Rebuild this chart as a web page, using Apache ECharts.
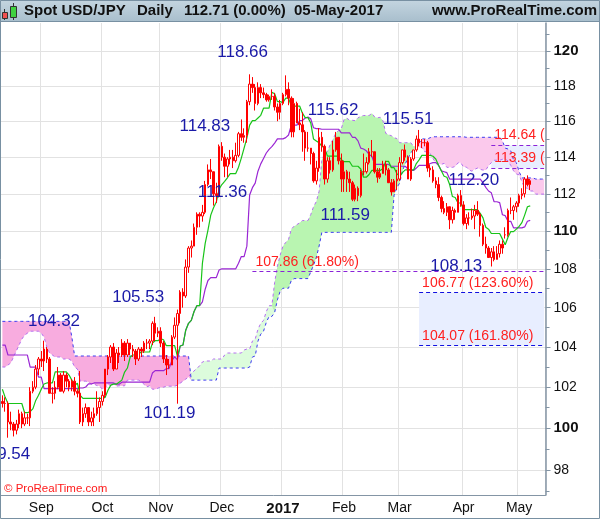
<!DOCTYPE html>
<html><head><meta charset="utf-8">
<script src="https://cdn.jsdelivr.net/npm/echarts@6/dist/echarts.min.js"></script>
<style>html,body{margin:0;padding:0;background:#fff}#c{width:600px;height:519px}</style>
</head><body><div id="c"></div>
<script>
// ---------- categories (weekdays 2016-08-12 .. 2017-05-12) ----------
const categories = [];
for (let d = new Date(Date.UTC(2016,7,12)); d <= new Date(Date.UTC(2017,4,12)); d.setUTCDate(d.getUTCDate()+1)) {
  const w = d.getUTCDay(); if (w !== 0 && w !== 6) categories.push(d.toISOString().slice(0,10));
}
const monthStarts = ['2016-09-01','2016-10-03','2016-11-01','2016-12-01','2017-01-02','2017-02-01','2017-03-01','2017-04-03','2017-05-01'];
const monthLabels = ['Sep','Oct','Nov','Dec','2017','Feb','Mar','Apr','May'];
const yMajorTicks = [98,100,102,104,106,108,110,112,114,116,118,120];
const yMinorTicks = [97,99,101,103,105,107,109,111,113,115,117,119,121];

// ---------- OHLC (Aug 12 2016 .. May 5 2017) ----------
const open = [
101.3,101.2,101.2,100.3,100.2,99.9,100.2,100.7,100.2,100.5,100.5,101.8,102.0,102.9,
103.4,103.3,103.9,103.4,101.7,101.7,102.0,102.6,101.8,102.6,102.3,102.0,102.3,101.8,101.7,100.3,100.7,101.0,100.3,100.5,100.7,101.0,
101.3,101.6,102.9,103.5,104.0,102.9,103.7,103.6,104.2,103.6,104.2,103.9,103.8,103.4,103.9,103.8,104.2,104.2,104.3,105.2,104.7,
104.8,104.2,103.4,103.1,103.1,104.5,105.1,105.7,106.8,106.6,108.1,109.1,109.2,110.2,110.9,110.8,111.0,112.5,113.3,113.2,112.0,111.9,
114.6,114.0,113.5,113.9,114.0,113.8,114.1,115.3,115.1,115.2,117.1,118.1,117.9,117.0,117.9,117.6,117.5,117.2,117.4,117.4,116.8,116.5,
117.0,117.5,117.8,117.3,115.4,117.0,115.9,115.8,115.4,114.5,114.5,114.2,112.7,113.4,115.1,114.6,112.8,113.8,113.3,114.4,115.1,113.8,
112.8,113.2,112.8,112.6,111.7,112.3,111.9,113.2,113.2,113.7,114.3,114.3,113.2,112.9,113.1,113.6,113.3,112.6,112.1,112.7,
112.8,113.7,114.4,114.0,112.8,113.9,114.4,115.0,114.8,114.8,114.8,113.4,113.3,112.7,112.5,111.8,111.2,111.0,111.3,110.6,111.1,111.0,111.9,
111.4,110.4,110.7,110.7,110.8,111.1,110.9,110.3,109.3,109.1,108.6,108.9,108.5,108.8,109.3,109.8,109.8,111.1,111.1,111.3,
111.5,111.9,112.0,112.8,112.5];
const close = [
101.2,101.2,100.3,100.2,99.9,100.2,100.7,100.2,100.5,100.5,101.8,102.0,102.9,103.4,
103.3,103.9,103.4,101.7,101.7,102.0,102.6,101.8,102.6,102.3,102.0,102.3,101.8,101.7,100.3,100.7,101.0,100.3,100.5,100.7,101.0,101.3,
101.6,102.9,103.5,104.0,102.9,103.7,103.6,104.2,103.6,104.2,103.9,103.8,103.4,103.9,103.8,104.2,104.2,104.3,105.2,104.7,104.8,
104.2,103.4,103.1,103.1,104.5,105.1,105.7,106.8,106.6,108.1,109.1,109.2,110.2,110.9,110.8,111.0,112.5,113.3,113.2,112.0,111.9,114.6,
114.0,113.5,113.9,114.0,113.8,114.1,115.3,115.1,115.2,117.1,118.1,117.9,117.0,117.9,117.6,117.5,117.2,117.4,117.4,116.8,116.5,117.0,
117.5,117.8,117.3,115.4,117.0,115.9,115.8,115.4,114.5,114.5,114.2,112.7,113.4,115.1,114.6,112.8,113.8,113.3,114.4,115.1,113.8,112.8,
113.2,112.8,112.6,111.7,112.3,111.9,113.2,113.2,113.7,114.3,114.3,113.2,112.9,113.1,113.6,113.3,112.6,112.1,112.7,112.8,
113.7,114.4,114.0,112.8,113.9,114.4,115.0,114.8,114.8,114.8,113.4,113.3,112.7,112.5,111.8,111.2,111.0,111.3,110.6,111.1,111.0,111.9,111.4,
110.4,110.7,110.7,110.8,111.1,110.9,110.3,109.3,109.1,108.6,108.9,108.5,108.8,109.3,109.1,109.8,111.1,111.1,111.3,111.5,
111.9,112.0,112.8,112.5,112.71];
const high = [
101.6,101.5,101.3,100.8,100.3,100.4,100.9,100.8,100.8,100.7,102.0,102.3,103.1,103.5,
103.8,104.32,104.0,103.5,102.0,102.3,103.0,102.7,102.8,102.7,102.4,102.4,102.5,101.9,102.8,101.0,101.2,101.0,100.8,101.0,101.8,101.5,
101.8,102.9,103.6,104.1,104.2,103.9,104.0,104.4,104.3,104.4,104.2,104.1,103.9,104.0,104.0,104.3,104.4,104.4,105.3,105.53,105.0,
105.0,104.3,103.6,103.4,104.6,105.5,105.9,106.9,107.0,108.5,109.2,109.5,110.4,111.0,111.0,111.4,112.7,113.6,113.9,113.2,112.6,114.7,
114.83,114.2,114.0,114.4,114.4,114.8,115.4,116.1,115.6,117.2,118.66,118.5,118.1,118.2,118.1,117.9,117.6,117.5,117.8,117.6,117.0,117.2,
117.6,118.6,118.2,117.4,117.3,117.1,116.7,116.5,115.5,115.4,114.5,114.3,113.8,115.62,115.4,114.7,114.0,114.0,114.9,115.4,115.1,114.2,
113.8,113.3,113.2,112.7,112.5,112.4,113.3,114.2,114.0,114.5,114.95,114.3,113.4,113.4,113.8,113.8,113.4,112.8,112.8,113.3,
114.0,114.4,114.7,114.1,114.0,114.4,115.2,115.51,115.0,115.0,114.9,113.6,113.5,112.9,112.9,111.9,111.6,111.5,111.3,111.3,111.2,112.0,112.2,
111.6,110.9,111.0,111.2,111.4,111.6,111.0,110.4,109.7,109.2,109.1,109.2,109.2,109.5,109.5,110.2,111.2,111.8,111.4,111.6,
112.0,112.3,112.9,113.0,112.8];
const low = [
101.0,100.8,99.54,99.9,99.6,99.7,100.0,100.0,100.1,100.2,100.1,101.7,101.9,102.6,
103.0,102.8,103.2,101.7,101.2,101.4,101.9,101.8,101.7,102.0,101.8,101.8,101.6,101.5,100.2,100.1,100.5,100.1,100.1,100.1,100.6,100.3,
101.1,101.5,102.6,103.2,102.8,102.9,103.2,103.5,103.3,103.5,103.6,103.5,103.1,103.3,103.5,103.7,103.9,103.9,104.1,104.3,104.5,
104.0,103.2,102.6,102.9,103.1,104.4,101.19,105.2,106.0,106.5,107.8,108.6,109.2,109.8,110.2,110.5,110.9,112.4,112.8,111.36,111.5,111.8,
113.8,112.9,112.9,113.6,113.4,113.7,114.0,114.9,114.8,114.8,116.9,117.6,116.6,116.9,117.3,117.3,117.1,117.1,117.2,116.6,116.0,116.1,
116.9,117.4,116.9,115.1,115.1,115.9,115.5,114.3,113.8,114.3,113.6,112.6,112.5,113.2,114.3,112.5,112.6,113.1,113.2,114.3,113.6,112.1,
112.1,112.1,112.1,111.6,111.59,111.6,111.8,113.0,113.1,113.6,114.0,113.1,112.6,112.8,113.1,113.0,112.6,111.9,112.1,112.2,
112.7,113.6,113.8,112.8,112.7,113.8,114.3,114.6,114.5,114.6,113.2,112.9,112.6,112.3,111.6,111.0,110.9,110.8,110.1,110.4,110.6,111.0,111.3,
110.3,110.1,110.3,110.6,110.1,110.8,109.7,109.2,108.8,108.6,108.13,108.4,108.5,108.6,108.8,109.6,109.7,110.9,110.6,111.0,
111.3,111.7,111.8,112.4,112.2];

// ---------- Ichimoku lines ----------
const tenkan = [
101.9,101.5,101.2,101.2,101.2,101.2,101.2,101.2,100.75,100.75,100.8,100.95,101.35,101.6,
101.9,102.16,102.21,102.21,102.21,102.76,102.76,102.76,102.76,102.76,102.6,102.35,102.1,102.2,101.6,101.45,101.45,101.45,101.45,101.45,101.45,101.45,
101.45,101.5,101.85,102.1,102.15,102.15,102.25,102.35,102.75,102.95,103.5,103.6,103.6,103.65,103.75,103.75,103.75,103.75,104.2,104.32,104.32,
104.42,104.37,104.07,104.07,104.07,104.07,103.55,104.05,104.1,104.85,105.2,105.35,105.8,106.1,106.1,108.3,109.35,110.05,110.85,111.25,111.55,112.25,
112.5,112.67,112.87,113.1,113.1,113.1,113.45,113.95,114.5,115.05,115.78,116.03,116.03,116.18,116.33,116.73,116.73,116.73,117.63,117.55,117.1,117.1,
117.05,117.3,117.3,116.85,116.85,116.85,116.85,116.45,116.2,116.2,115.9,115.0,114.9,114.8,114.6,114.5,114.06,114.06,114.06,114.06,114.06,113.86,
113.75,113.75,113.75,113.5,113.5,113.5,113.35,112.9,112.9,113.05,113.27,113.27,113.27,113.27,113.37,113.77,113.77,113.42,113.42,113.1,
112.95,113.15,113.3,113.3,113.3,113.3,113.65,113.85,114.1,114.1,114.1,114.1,114.05,113.9,113.55,113.25,112.95,112.9,112.5,111.85,111.8,111.5,111.5,
111.15,111.15,111.15,111.15,111.15,111.15,110.95,110.7,110.2,110.1,109.87,109.87,109.87,109.87,109.57,109.27,109.67,109.97,109.97,110.1,
110.25,110.45,110.85,111.3,111.35];
const kijun = [
104.1,104.1,103.6,103.6,103.6,103.6,103.6,103.6,103.6,103.6,103.0,103.0,103.0,102.5,
102.5,101.93,101.93,101.93,101.93,101.93,101.93,101.93,101.93,101.93,101.93,101.93,101.93,101.93,101.96,101.96,102.01,102.16,102.16,102.21,102.21,102.21,
102.21,102.21,102.21,102.21,102.21,102.15,102.15,102.25,102.25,102.25,102.25,102.25,102.25,102.25,102.25,102.25,102.25,102.25,102.7,102.82,102.82,
102.82,102.82,102.92,102.92,103.32,103.52,103.36,104.05,104.1,104.85,105.2,105.35,105.8,106.1,106.1,106.3,106.95,107.4,107.55,107.55,107.55,107.95,
108.01,108.01,108.01,108.01,108.01,108.01,108.3,108.65,108.65,109.2,111.93,112.33,112.58,113.23,113.63,113.93,114.23,114.43,114.58,114.78,115.01,115.01,
115.01,115.08,115.23,115.78,115.78,115.78,116.03,116.03,116.18,116.23,116.13,115.63,115.58,115.58,115.55,115.55,115.55,115.55,115.55,115.55,115.55,115.35,
115.35,115.35,115.35,115.1,115.1,114.9,114.5,114.45,114.35,114.15,114.05,113.6,113.6,113.6,113.6,113.6,113.6,113.5,113.5,113.5,
113.5,113.5,113.5,113.35,113.27,113.27,113.4,113.55,113.55,113.55,113.55,113.65,113.7,113.7,113.55,113.25,113.2,113.15,112.8,112.8,112.8,112.8,112.8,
112.8,112.8,112.8,112.8,112.8,112.8,112.8,112.6,112.35,112.15,112.05,111.57,111.57,111.52,110.87,110.82,110.52,110.52,110.17,110.17,
110.17,110.17,110.22,110.52,110.57];
// cloud edges (plotted 26 days ahead, so they reach past the last candle)
const spanA = [
103.0,103.0,103.1,103.2,103.5,103.8,104.1,104.4,104.6,104.7,104.8,104.8,104.8,104.8,104.7,104.5,
104.0,103.7,103.6,103.5,103.5,103.5,103.4,103.4,103.4,103.3,
103.0,102.9,102.3,102.3,102.3,102.26,102.16,102.16,102.08,102.06,101.9,101.97,102.17,102.05,102.2,102.05,
102.07,102.07,102.07,102.35,102.35,102.35,102.35,102.35,102.27,102.14,102.02,102.07,101.9,101.9,101.95,
102.0,102.0,102.05,102.05,102.05,102.05,102.1,102.2,102.3,102.4,102.5,102.7,102.8,102.95,103.05,103.25,
103.3,103.3,103.3,103.4,103.4,103.4,103.4,103.6,103.7,103.7,103.7,103.7,103.7,103.7,103.85,103.9,103.9,
104.3,104.4,104.9,105.2,105.35,105.8,106.1,106.1,107.3,108.15,108.73,109.2,109.4,109.55,110.1,110.26,110.34,110.44,
110.56,110.56,110.56,110.88,111.3,111.58,112.13,113.86,114.18,114.3,114.7,114.98,115.33,115.48,115.58,116.1,116.17,
116.05,116.05,116.03,116.19,116.27,116.32,116.32,116.32,116.44,116.24,116.19,116.22,116.02,115.32,115.24,115.19,115.08,115.03,
114.8,114.8,114.8,114.8,114.8,114.6,114.55,114.55,114.55,114.3,114.3,114.2,113.93,113.68,113.63,113.6,113.66,
113.44,113.44,113.44,113.49,113.69,113.69,113.46,113.46,113.3,113.23,113.33,113.4,113.33,113.29,113.29,113.53,113.7,
113.83,113.83,113.83,113.88,113.88,113.8,113.55,113.25,113.08,113.03,112.65,112.33,112.3,112.15,112.15,111.98,111.98,111.98,111.98];
const spanB = [
105.3,105.3,105.3,105.3,105.3,105.3,105.3,105.3,105.3,105.3,105.3,105.3,105.3,105.3,105.3,105.3,105.3,105.3,105.3,105.3,105.3,105.3,105.3,105.3,105.3,
104.5,
103.55,103.55,103.55,103.55,103.55,103.55,103.55,103.55,103.55,103.55,103.55,103.55,103.55,103.55,103.55,103.55,103.55,103.55,103.55,103.55,103.55,
103.55,103.55,103.55,103.55,103.55,103.55,103.55,103.55,103.55,103.55,103.55,103.55,103.55,103.55,103.55,103.55,103.55,103.55,103.55,103.55,103.55,
102.35,102.35,102.35,102.35,102.35,102.35,102.35,102.35,102.35,102.35,
102.95,102.95,102.95,102.95,102.95,102.95,102.95,102.95,102.95,102.95,102.95,
103.0,103.5,103.55,104.3,104.65,104.8,105.25,105.55,105.55,105.75,106.4,106.85,107.0,107.0,107.0,107.4,
107.5,107.5,107.5,107.5,107.5,107.5,107.85,108.2,108.6,109.2,
109.93,109.93,109.93,109.93,109.93,109.93,109.93,109.93,109.93,109.93,109.93,109.93,109.93,
109.93,109.93,109.93,109.93,109.93,109.93,109.93,109.93,109.93,109.93,109.93,109.93,109.93,
111.93,112.33,112.58,113.23,113.63,113.93,114.23,114.43,114.58,114.78,115.01,115.01,115.01,115.08,
115.13,115.13,115.13,115.13,115.13,115.13,115.13,115.13,115.13,115.13,115.13,115.13,
115.1,115.1,115.1,115.1,115.1,115.1,115.1,115.1,115.1,115.1,115.1,115.1,115.1,
114.9,114.5,114.45,114.35,113.85,113.7,113.21,112.86,112.86,112.86,112.86,112.86,112.8,112.8,112.8,112.8];

// ---------- annotations ----------
const swingDates = ['2016-08-16','2016-09-02','2016-10-28','2016-11-09','2016-11-28','2016-12-01','2016-12-15','2017-01-19','2017-02-07','2017-03-10','2017-03-31','2017-04-17'];
const swingValues = [99.54,104.32,105.53,101.19,111.36,114.83,118.66,115.62,111.59,115.51,112.20,108.13];
const swingOffsets = [[1,17],[10,-19],[-17,-20],[-8,10],[9,-13],[-17,-16],[-7,-22],[14,-18],[-10,14],[-11,-11],[13,-10],[-35,0]];
const fibValues = [107.86,106.77,104.07,114.64,113.39];
const fibTexts = ['107.86 (61.80%)','106.77 (123.60%)','104.07 (161.80%)','114.64 (61.80%)','113.39 (50.00%)'];
const fibStartDates = ['2016-12-16','2017-03-10','2017-03-10','2017-04-17','2017-04-17'];
const fibColors = ['#8a22d8','#1010e0','#1010e0','#8a22d8','#8a22d8'];
const fibBoxes = [['2017-03-10',106.77,104.07],['2017-04-17',114.64,113.39]];

// ---------- build ----------
const FONT = '"Liberation Sans", Arial, sans-serif';
const N = categories.length, lastCat = categories[N-1];
const monthIdx = new Set(monthStarts.map(d => categories.indexOf(d)));
const ohlc = close.map((c,i) => [open[i], c, low[i], high[i]]);
const lo = [], pinkL = [], greenL = [], greenR = [], pinkR = [];
for (let j = 0; j < spanA.length; j++) {
  const a = spanA[j], b = spanB[j], d = Math.abs(a-b);
  lo.push(Math.min(a,b));
  const bull = a > b;
  pinkL.push(!bull && j < 100 ? d : 0);
  pinkR.push(!bull && j >= 100 ? d : 0);
  greenL.push(bull && j < 98 ? d : 0);
  greenR.push(bull && j >= 98 ? d : 0);
}
function band(name, data, color) {
  return {name, type:'line', stack:'cloud', data, symbol:'none', silent:true, z:1,
    lineStyle:{width:0, opacity:0}, areaStyle: color ? {color, opacity:1} : undefined};
}
const fibLines = fibValues.map((v,k) => [
  {coord:[fibStartDates[k], v], lineStyle:{color:fibColors[k]},
   label:{formatter: fibTexts[k], width: k>=3 ? 52 : null, overflow: k>=3 ? 'truncate' : 'none', ellipsis:''}},
  {coord:[lastCat, v]}
]);
const chart = echarts.init(document.getElementById('c'), null, {renderer:'canvas'});
chart.setOption({
  animation:false,
  backgroundColor:'#ffffff',
  textStyle:{fontFamily:FONT},
  grid:{left:1, right:54.5, top:23, bottom:24, outerBoundsMode:'none', containLabel:false},
  xAxis:{type:'category', data:categories, boundaryGap:true,
    axisLine:{show:true, lineStyle:{color:'#8495a5', width:1}},
    axisTick:{show:false},
    axisLabel:{interval:(i)=>monthIdx.has(i), margin:6, color:'#111', fontSize:14, fontFamily:FONT,
      formatter:(v)=>{const k=monthStarts.indexOf(v); const t=monthLabels[k]; return k===4 ? '{b|'+t+'}' : t;},
      rich:{b:{fontWeight:'bold', fontSize:15, color:'#111', fontFamily:FONT}}},
    splitLine:{show:true, interval:(i)=>monthIdx.has(i), lineStyle:{color:'#e2e2e2', width:1}}},
  yAxis:[
    {type:'log', logBase:10, min:96.82, max:121.64, position:'right',
     axisLine:{show:true, lineStyle:{color:'#8495a5', width:1.5}},
     axisTick:{show:true, customValues:yMajorTicks, length:5, lineStyle:{color:'#8495a5'}},
     axisLabel:{customValues:yMajorTicks, margin:8, color:'#111', fontSize:14, fontFamily:FONT,
       formatter:(v)=> (Math.round(v)%10===0 ? '{b|'+Math.round(v)+'}' : String(Math.round(v))),
       rich:{b:{fontWeight:'bold', fontSize:15, color:'#111', fontFamily:FONT}}},
     splitLine:{show:true, lineStyle:{color:'#e2e2e2', width:1}}},
    {type:'log', logBase:10, min:96.82, max:121.64, position:'right',
     axisLine:{show:false}, axisLabel:{show:false}, splitLine:{show:false},
     axisTick:{show:true, customValues:yMinorTicks, length:4, lineStyle:{color:'#8495a5'}}}
  ],
  series:[
    {name:'fibBoxes', type:'line', data:[], z:1, silent:true,
     markArea:{silent:true, itemStyle:{color:'#e8eeff'},
       data: fibBoxes.map(b => [{coord:[b[0], b[1]]}, {coord:[lastCat, b[2]]}])}},
    band('lo', lo, null),
    band('pinkL', pinkL, '#f8acdf'),
    band('greenL', greenL, '#dcfcdc'),
    band('greenR', greenR, '#b9f5b1'),
    band('pinkR', pinkR, '#fbc9ec'),
    {name:'spanA', type:'line', data:spanA, symbol:'none', silent:true, z:2,
     lineStyle:{color:'#b46ef0', width:1, type:[3,3]}},
    {name:'spanB', type:'line', data:spanB, symbol:'none', silent:true, z:2,
     lineStyle:{color:'#3a3af0', width:1, type:[3,3]}},
    {name:'fibLines', type:'line', data:[], z:3, silent:true,
     markLine:{silent:true, symbol:['none','none'], lineStyle:{type:[4,3], width:1},
       label:{show:true, position:'insideStartTop', distance:3, color:'#ff2020', fontSize:14, fontFamily:FONT},
       data: fibLines}},
    {name:'kijun', type:'line', data:kijun, symbol:'none', silent:true, z:4,
     lineStyle:{color:'#9a26d4', width:1.2}},
    {name:'tenkan', type:'line', data:tenkan, symbol:'none', silent:true, z:4,
     lineStyle:{color:'#18c418', width:1.2}},
    {name:'USD/JPY', type:'candlestick', data:ohlc, z:5, barWidth:2,
     itemStyle:{color:'#ffffff', color0:'#ff0000', borderColor:'#ff0000', borderColor0:'#ff0000', borderWidth:1}},
    {name:'swings', type:'scatter', symbol:'circle', symbolSize:2, z:6, silent:true,
     itemStyle:{color:'rgba(0,0,0,0)'},
     data: swingDates.map((d,k)=>[d, swingValues[k]]),
     label:{show:true, position:'inside', color:'#1a1aa8', fontSize:17, fontFamily:FONT, opacity:1,
       formatter:(p)=>p.value[1].toFixed(2)},
     labelLayout:(p)=>({dx:swingOffsets[p.dataIndex][0], dy:swingOffsets[p.dataIndex][1], hideOverlap:false})}
  ],
  graphic:[
    {type:'rect', shape:{x:0,y:0,width:600,height:21}, z:100,
     style:{fill:new echarts.graphic.LinearGradient(0,0,0,1,[{offset:0,color:'#c4d5e0'},{offset:1,color:'#a9bfcd'}])}},
    {type:'line', shape:{x1:0,y1:21.5,x2:600,y2:21.5}, z:101, style:{stroke:'#7890a2', lineWidth:1}},
    {type:'line', shape:{x1:4.5,y1:9,x2:4.5,y2:20}, z:101, style:{stroke:'#333', lineWidth:1}},
    {type:'rect', shape:{x:2.5,y:12.5,width:5,height:6}, z:102, style:{fill:'#f05050', stroke:'#333', lineWidth:1}},
    {type:'line', shape:{x1:13.5,y1:3,x2:13.5,y2:20}, z:101, style:{stroke:'#333', lineWidth:1}},
    {type:'rect', shape:{x:10.5,y:6.5,width:6,height:11}, z:102, style:{fill:'#40d040', stroke:'#333', lineWidth:1}},
    {type:'text', left:24, top:3, z:102, style:{text:'Spot USD/JPY', font:'bold 15px '+FONT, fill:'#111'}},
    {type:'text', left:137, top:3, z:102, style:{text:'Daily', font:'bold 15px '+FONT, fill:'#111'}},
    {type:'text', left:184, top:3, z:102, style:{text:'112.71 (0.00%)', font:'bold 15px '+FONT, fill:'#111'}},
    {type:'text', left:294, top:3, z:102, style:{text:'05-May-2017', font:'bold 15px '+FONT, fill:'#111'}},
    {type:'text', right:3, top:3, z:102, style:{text:'www.ProRealTime.com', font:'bold 15px '+FONT, fill:'#111'}},
    {type:'text', left:4, top:483, z:102, style:{text:'© ProRealTime.com', font:'11.5px '+FONT, fill:'#ff1a1a'}},
    {type:'rect', shape:{x:0.5,y:0.5,width:599,height:518}, z:103, style:{fill:'none', stroke:'#7890a2', lineWidth:1}}
  ]
});
</script></body></html>
